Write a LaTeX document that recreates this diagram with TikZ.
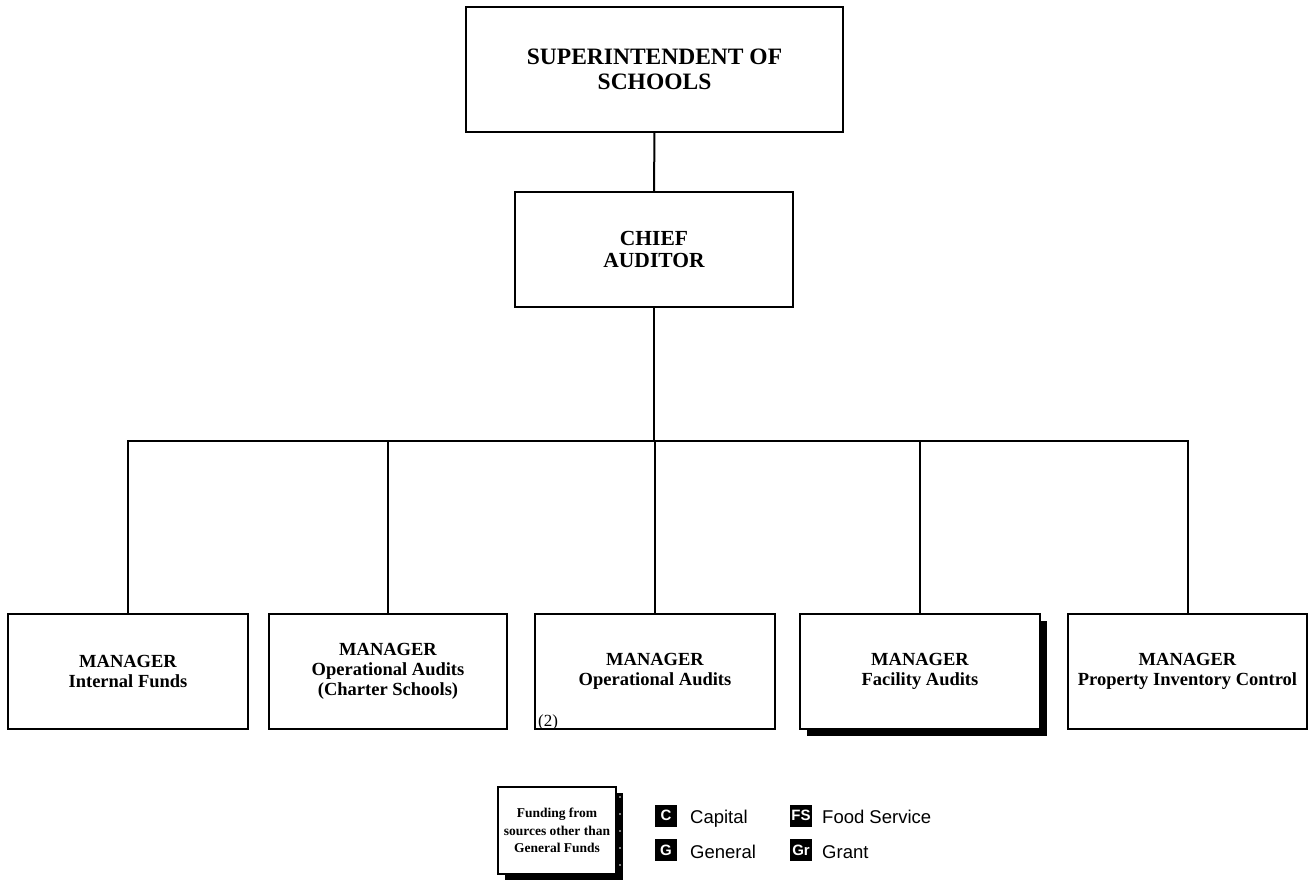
\documentclass[tikz,border=0pt]{standalone}
\usepackage{fontspec}
\setmainfont{Liberation Serif}
\newfontfamily\legendsans{Liberation Sans}
\usetikzlibrary{shadows}
\begin{document}
\begin{tikzpicture}[x=1pt,y=-1pt,
  orgbox/.style={draw, line width=2pt, fill=white, align=center, inner sep=0pt},
  topbox/.style={orgbox, minimum width=377pt, minimum height=125pt,
    font=\bfseries\fontsize{23.5pt}{25pt}\selectfont},
  chiefbox/.style={orgbox, minimum width=278pt, minimum height=115pt,
    font=\bfseries\fontsize{21.5pt}{22pt}\selectfont},
  mgrbox/.style={orgbox, minimum height=115pt,
    font=\bfseries\fontsize{18.5pt}{20pt}\selectfont},
  heavyshadow/.style={drop shadow={shadow xshift=7pt, shadow yshift=-7pt, opacity=1, fill=black}},
  link/.style={line width=2pt},
  keysq/.style={fill=black, text=white, minimum size=22pt, inner sep=0pt,
    font=\legendsans\bfseries\fontsize{15pt}{15pt}\selectfont},
  keytxt/.style={anchor=base west, inner sep=0pt, font=\legendsans\fontsize{18.5pt}{20pt}\selectfont}
]
\useasboundingbox (0,0) rectangle (1310,879);

% Reporting chain
\node[topbox] (super) at (654.5,69.5) {SUPERINTENDENT OF\\SCHOOLS};
\node[chiefbox] (chief) at (654,249.5) {CHIEF\\AUDITOR};

% Managers
\node[mgrbox, minimum width=240pt] (m1) at (128,671) {MANAGER\\Internal Funds};
\node[mgrbox, minimum width=238pt] (m2) at (388,671) {MANAGER\\Operational Audits\\(Charter Schools)};
\node[mgrbox, minimum width=240pt] (m3) at (655,671) {MANAGER\\Operational Audits};
\node[mgrbox, minimum width=240pt, heavyshadow] (m4) at (920,671) {MANAGER\\Facility Audits};
\node[mgrbox, minimum width=239pt] (m5) at (1187.5,671) {MANAGER\\Property Inventory Control};
\node[anchor=base west, inner sep=0pt, font=\fontsize{17pt}{18pt}\selectfont] (note) at (538,726) {(2)};

% Connectors
\coordinate (bus) at (654,441);
\draw[link] (super) -- (chief);
\draw[link] (chief) -- (chief |- bus);
\draw[link] (m1.north) -- (m1.north |- bus) -- (m5.north |- bus) -- (m5.north);
\draw[link] (m2.north) -- (m2.north |- bus);
\draw[link] (m3.north) -- (m3.north |- bus);
\draw[link] (m4.north) -- (m4.north |- bus);

% Funding legend
\node[draw, line width=2pt, fill=white, minimum width=118pt, minimum height=87pt,
  inner sep=0pt, align=center, font=\bfseries\fontsize{13.5pt}{17.5pt}\selectfont,
  drop shadow={shadow xshift=7pt, shadow yshift=-6pt, opacity=1, fill=black}]
  (fund) at (557,830.5) {Funding from\\sources other than\\General Funds};
\foreach \yy in {797,814,...,880} \fill[white] (620,\yy) circle (0.8);

\node[keysq] (kc) at (666,815.5) {C};
\node[keytxt] (tc) at (690,823) {Capital};
\node[keysq] (kg) at (666,850) {G};
\node[keytxt] (tg) at (690,858) {General};
\node[keysq] (kfs) at (801,815.5) {FS};
\node[keytxt] (tfs) at (822,823) {Food Service};
\node[keysq] (kgr) at (801,850) {Gr};
\node[keytxt] (tgr) at (822,858) {Grant};
\end{tikzpicture}
\end{document}
